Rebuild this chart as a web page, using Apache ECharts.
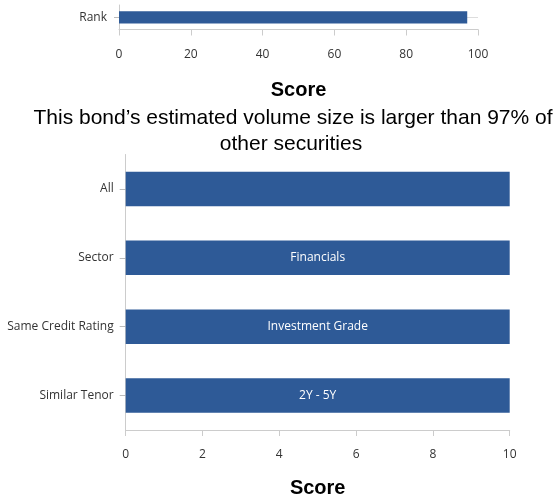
<!DOCTYPE html>
<html><head><meta charset="utf-8">
<script src="https://cdn.jsdelivr.net/npm/echarts@6/dist/echarts.min.js"></script>
<style>html,body{margin:0;padding:0;background:#fff}#c{width:558px;height:497px}</style>
</head><body><div id="c"></div>
<script>
const rankCategories = ['Rank'];
const rankValues = [97];
const rankTicks = {min: 0, max: 100, interval: 20};
const peerCategories = ['All', 'Sector', 'Same Credit Rating', 'Similar Tenor'];
const peerValues = [10, 10, 10, 10];
const peerBarLabels = ['', 'Financials', 'Investment Grade', '2Y - 5Y'];
const peerTicks = {min: 0, max: 10, interval: 2};
const subtitleLines = ['This bond\u2019s estimated volume size is larger than 97% of', 'other securities'];

const barColor = '#2E5A97';
const labelFont = 'Open Sans';
const axisLabelStyle = {color: '#333', fontFamily: labelFont, fontSize: 12};
const subFont = '21px "Liberation Sans", Arial, sans-serif';
const nameStyle = {fontFamily: 'Liberation Sans', fontSize: 20, fontWeight: 'bold', color: '#000'};
const chart = echarts.init(document.getElementById('c'), null, {renderer: 'canvas'});
chart.setOption({
  animation: false,
  graphic: [
    {type: 'text', x: 293, y: 118.5, style: {text: subtitleLines[0], font: subFont, fill: '#000', align: 'center', verticalAlign: 'middle'}},
    {type: 'text', x: 291, y: 144.5, style: {text: subtitleLines[1], font: subFont, fill: '#000', align: 'center', verticalAlign: 'middle'}}
  ],
  grid: [
    {left: 119, right: 80, top: 5, height: 24.5, containLabel: false, outerBoundsMode: 'none'},
    {left: 125.7, right: 48.3, top: 154.5, height: 275.5, containLabel: false, outerBoundsMode: 'none'}
  ],
  xAxis: [
    {gridIndex: 0, type: 'value', min: rankTicks.min, max: rankTicks.max, interval: rankTicks.interval,
     name: 'Score', nameLocation: 'middle', nameGap: 51, nameTextStyle: nameStyle,
     axisLine: {show: true, lineStyle: {color: '#ccc'}},
     axisTick: {show: true, length: 6, lineStyle: {color: '#ccc'}},
     axisLabel: Object.assign({margin: 19}, axisLabelStyle),
     splitLine: {show: false}},
    {gridIndex: 1, type: 'value', min: peerTicks.min, max: peerTicks.max, interval: peerTicks.interval,
     name: 'Score', nameLocation: 'middle', nameGap: 48, nameTextStyle: nameStyle,
     axisLine: {show: true, lineStyle: {color: '#ccc'}},
     axisTick: {show: true, length: 6, lineStyle: {color: '#ccc'}},
     axisLabel: Object.assign({margin: 19}, axisLabelStyle),
     splitLine: {show: false}}
  ],
  yAxis: [
    {gridIndex: 0, type: 'category', data: rankCategories, inverse: true,
     axisLine: {show: true, lineStyle: {color: '#ccc'}},
     axisTick: {show: true, alignWithLabel: true, length: 5, lineStyle: {color: '#bbb'}},
     axisLabel: Object.assign({margin: 12}, axisLabelStyle),
     splitLine: {show: false}},
    {gridIndex: 1, type: 'category', data: peerCategories, inverse: true,
     axisLine: {show: true, lineStyle: {color: '#ccc'}},
     axisTick: {show: true, alignWithLabel: true, length: 6, lineStyle: {color: '#bbb'}},
     axisLabel: Object.assign({margin: 12}, axisLabelStyle),
     splitLine: {show: false}}
  ],
  series: [
    {type: 'bar', xAxisIndex: 0, yAxisIndex: 0, data: rankValues, barCategoryGap: '50%',
     itemStyle: {color: barColor}, z: 3,
     markLine: {silent: true, symbol: 'none', label: {show: false}, z: 1,
       lineStyle: {color: '#ddd', type: 'solid', width: 1},
       data: [[{coord: [rankTicks.min, rankCategories[0]]}, {coord: [rankTicks.max, rankCategories[0]]}]]}},
    {type: 'bar', xAxisIndex: 1, yAxisIndex: 1, barCategoryGap: '50%',
     data: peerValues.map((v, i) => ({value: v, label: {show: !!peerBarLabels[i], formatter: peerBarLabels[i]}})),
     itemStyle: {color: barColor},
     label: {position: 'inside', color: '#fff', fontFamily: labelFont, fontSize: 12}}
  ]
});
</script></body></html>
